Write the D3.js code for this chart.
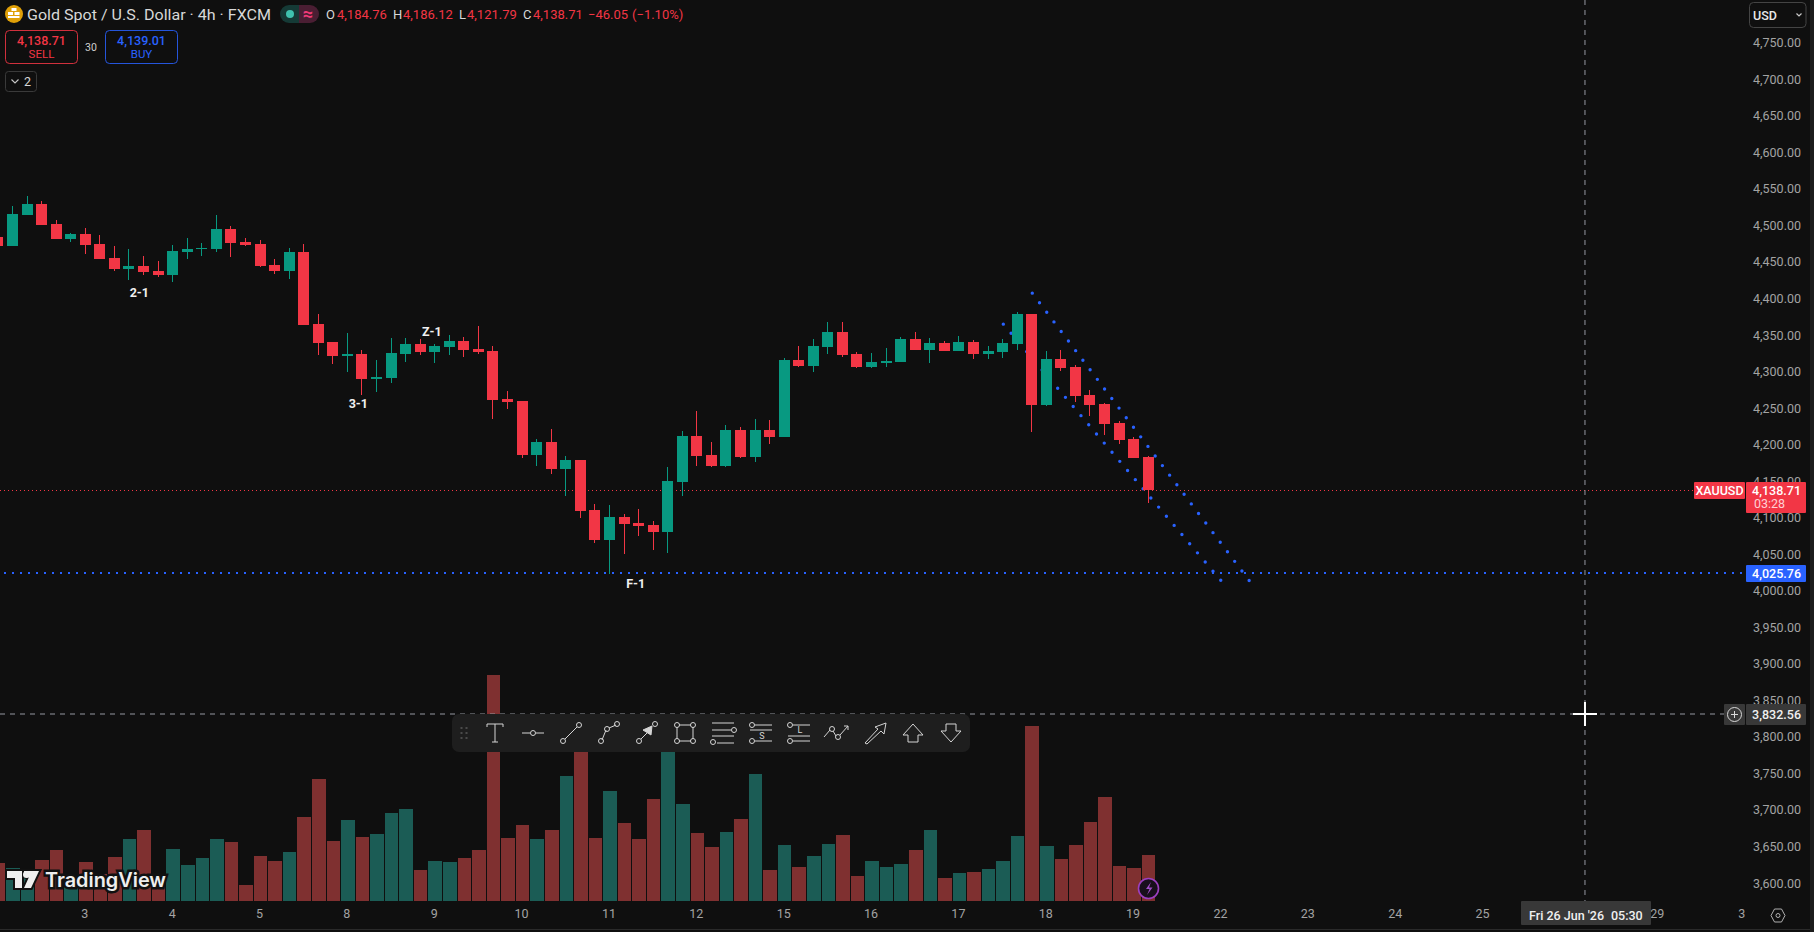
<!DOCTYPE html>
<meta charset="utf-8">
<head>
<style>
html, body { margin: 0; padding: 0; background: #0f0f0f; overflow: hidden; }
text { font-family: Roboto, sans-serif; }
</style>
</head>
<div id="chart"></div>
<script src="https://d3js.org/d3.v7.min.js"></script>
<script>
// candles, index -1 is the one cut off by the left edge
var barIndex = d3.range(-1, 79);
var open = [4485.1,4472.8,4515.2,4530.3,4502.9,4482.4,4489.2,4475.5,4456.4,4441.4,4445.5,4438.6,4433.1,4464.6,4468.7,4468.7,4496.1,4478.3,4475.5,4446.8,4438.6,4464.6,4366.1,4341.5,4322.4,4325.1,4290.9,4292.3,4325.1,4338.8,4327.8,4334.7,4342.9,4332.0,4329.2,4263.5,4260.8,4187.0,4204.7,4167.8,4180.1,4111.7,4070.7,4102.2,4093.9,4091.2,4081.6,4150.0,4212.9,4187.0,4171.9,4221.2,4184.2,4221.2,4211.6,4316.9,4308.7,4334.7,4355.2,4325.1,4307.3,4312.8,4314.2,4345.6,4330.6,4340.1,4329.2,4341.5,4325.1,4327.8,4338.8,4379.8,4255.3,4318.3,4307.3,4269.0,4256.7,4230.7,4208.8,4184.76];
var high = [4486.5,4527.5,4541.2,4534.4,4508.4,4490.6,4497.4,4487.9,4472.8,4468.7,4459.1,4452.3,4474.2,4483.8,4476.9,4515.2,4500.2,4483.8,4481.0,4455.0,4470.1,4475.5,4379.8,4341.5,4353.8,4330.6,4316.9,4347.0,4347.0,4345.6,4338.8,4351.1,4348.3,4363.4,4336.0,4274.5,4260.8,4208.8,4222.5,4185.6,4180.1,4119.9,4118.6,4106.3,4113.1,4096.7,4170.5,4219.8,4247.1,4204.7,4228.0,4225.2,4236.2,4234.8,4319.6,4336.0,4345.6,4368.9,4368.9,4327.8,4326.5,4333.3,4348.3,4355.2,4347.0,4342.9,4349.7,4344.2,4336.0,4345.6,4382.5,4379.8,4329.2,4330.6,4310.0,4275.9,4258.1,4233.5,4211.6,4186.12];
var low = [4472.8,4472.8,4515.2,4501.5,4482.4,4478.3,4461.9,4455.0,4438.6,4426.3,4433.1,4430.4,4423.6,4455.0,4459.1,4464.6,4457.8,4472.8,4444.1,4434.5,4427.7,4364.8,4323.7,4311.4,4300.5,4269.0,4273.1,4285.4,4314.2,4323.7,4312.8,4323.7,4321.0,4325.1,4236.2,4249.9,4182.9,4171.9,4161.0,4130.9,4100.8,4066.6,4024.2,4051.6,4076.2,4057.0,4052.9,4130.9,4171.9,4170.5,4170.5,4182.9,4177.4,4202.0,4211.6,4307.3,4300.5,4325.1,4321.0,4305.9,4305.9,4307.3,4314.2,4330.6,4312.8,4329.2,4329.2,4318.3,4318.3,4319.6,4330.6,4218.4,4254.0,4301.8,4259.4,4240.3,4214.3,4202.0,4182.8,4121.79];
var close = [4472.8,4516.6,4530.3,4501.5,4482.4,4489.2,4474.2,4455.0,4441.4,4445.5,4437.3,4433.1,4466.0,4468.7,4470.1,4496.1,4476.9,4474.2,4445.5,4438.6,4464.6,4364.8,4340.1,4322.4,4325.1,4290.9,4293.6,4326.5,4338.8,4327.8,4336.0,4342.9,4330.6,4327.8,4262.2,4259.4,4187.0,4204.7,4167.8,4180.1,4110.4,4070.7,4102.2,4092.6,4089.8,4081.6,4151.4,4212.9,4185.6,4171.9,4221.2,4184.2,4221.2,4211.6,4316.9,4308.7,4336.0,4355.2,4323.7,4307.3,4314.2,4315.5,4345.6,4330.6,4340.1,4329.2,4341.5,4325.1,4329.2,4340.1,4379.8,4255.3,4318.3,4305.9,4267.6,4255.3,4229.3,4207.5,4182.8,4138.71];
var volume = [113,98,94,122,152,72,116,82,131,185,212,72,155,107,128,185,176,47,134,119,146,251,365,179,242,191,200,263,275,92,119,116,128,152,677,188,227,185,212,374,522,188,329,233,185,305,502,290,203,161,206,245,380,92,167,101,134,170,197,74,119,101,110,152,212,68,83,86,95,119,194,524,164,125,167,236,311,104,98,137];

var dayTickIdx = [5,11,17,23,29,35,41,47,53,59,65,71,77,83,89,95,101,113,118.8];
var dayTickLabels = ["3","4","5","8","9","10","11","12","15","16","17","18","19","22","23","24","25","29","3"];
var priceTicks = d3.range(3600, 4751, 50);

// drawn levels and trend lines, as bar index and price
var lastPrice = 4138.71;
var levelPrice = 4025.76;
var crossIdx = 108;
var crossPrice = 3832.56;
var trendUpper = [[70.04,4408.5],[85.0,4013.5]];
var trendLower = [[68.05,4366.1],[83.05,4014.0]];
var noteText = ["2-1","Z-1","3-1","F-1"];
var noteIdx = [8.71,28.8,23.75,42.8];
var notePrice = [4409.9,4356.2,4257.6,4011.5];

var width = 1814, height = 932;
var baseY = 901;

var red = "#f23645", green = "#089981", blue = "#2962ff";
var volRed = "#7f3030", volGreen = "#1b5c55";
var tickCol = "#a3a3a3";

var svg = d3.select("#chart").append("svg")
  .attr("width", width).attr("height", height)
  .style("display", "block");

svg.append("rect").attr("width", width).attr("height", height).attr("fill", "#0f0f0f");

var x = d3.scaleLinear().domain([0, 78]).range([12.5, 12.5 + 78 * 14.56]);
var y = d3.scaleLinear().domain([lastPrice, crossPrice]).range([490.3, 714]);
var yVol = d3.scaleLinear().domain([0, 678]).range([baseY, baseY - 226]);

var bars = barIndex.map(function(d, i) {
  return {i: d, o: open[i], h: high[i], l: low[i], c: close[i], v: volume[i], up: close[i] >= open[i]};
});

// volume
svg.append("g").selectAll("rect").data(bars).enter().append("rect")
  .attr("x", function(d) { return Math.round(x(d.i - 0.5)) + 1; })
  .attr("width", function(d) { return Math.round(x(d.i + 0.5)) - Math.round(x(d.i - 0.5)) - 1; })
  .attr("y", function(d) { return Math.round(yVol(d.v)); })
  .attr("height", function(d) { return baseY - Math.round(yVol(d.v)); })
  .attr("fill", function(d) { return d.up ? volGreen : volRed; });

// level lines
svg.append("line").attr("x1", 0).attr("x2", 1694)
  .attr("y1", Math.round(y(lastPrice)) + 0.5).attr("y2", Math.round(y(lastPrice)) + 0.5)
  .attr("stroke", red).attr("stroke-dasharray", "1 3");
svg.append("line").attr("x1", 4).attr("x2", 1746)
  .attr("y1", Math.round(y(levelPrice))).attr("y2", Math.round(y(levelPrice)))
  .attr("stroke", blue).attr("stroke-width", 2).attr("stroke-dasharray", "2 6");

// dotted trend lines
var trendPath = d3.line().x(function(d) { return x(d[0]); }).y(function(d) { return y(d[1]); });
[trendUpper, trendLower].forEach(function(t) {
  svg.append("path").attr("d", trendPath(t))
    .attr("fill", "none").attr("stroke", blue).attr("stroke-width", 3.4)
    .attr("stroke-linecap", "round").attr("stroke-dasharray", "0 12");
});

// candles
var cg = svg.append("g");
cg.selectAll(".wick").data(bars).enter().append("rect").attr("class", "wick")
  .attr("x", function(d) { return Math.floor(x(d.i)); })
  .attr("width", 1)
  .attr("y", function(d) { return Math.round(y(d.h)); })
  .attr("height", function(d) { return Math.round(y(d.l)) - Math.round(y(d.h)); })
  .attr("fill", function(d) { return d.up ? green : red; });
cg.selectAll(".body").data(bars).enter().append("rect").attr("class", "body")
  .attr("x", function(d) { return Math.floor(x(d.i)) - 5; })
  .attr("width", 11)
  .attr("y", function(d) { return Math.round(y(Math.max(d.o, d.c))); })
  .attr("height", function(d) { return Math.max(1, Math.round(y(Math.min(d.o, d.c))) - Math.round(y(Math.max(d.o, d.c)))); })
  .attr("fill", function(d) { return d.up ? green : red; });

// notes on the chart
svg.append("g").selectAll("text").data(noteText).enter().append("text")
  .attr("x", function(d, i) { return x(noteIdx[i]); })
  .attr("y", function(d, i) { return y(notePrice[i]); })
  .attr("text-anchor", "middle").attr("dominant-baseline", "central")
  .attr("font-size", "12.5px").attr("font-weight", 700).attr("fill", "#f0f0f0")
  .text(function(d) { return d; });

// crosshair
var cross = svg.append("g").attr("stroke", "#9598a1").attr("stroke-dasharray", "5 5");
cross.append("line").attr("x1", x(crossIdx)).attr("x2", x(crossIdx)).attr("y1", 0).attr("y2", 901);
cross.append("line").attr("x1", 0).attr("x2", 1724).attr("y1", y(crossPrice)).attr("y2", y(crossPrice));
svg.append("rect").attr("x", x(crossIdx) - 12).attr("y", y(crossPrice) - 1).attr("width", 24).attr("height", 2).attr("fill", "#fff");
svg.append("rect").attr("x", x(crossIdx) - 1).attr("y", y(crossPrice) - 12).attr("width", 2).attr("height", 24).attr("fill", "#fff");

// price axis
var yAxis = svg.append("g").attr("transform", "translate(1801,0)")
  .call(d3.axisLeft(y).tickValues(priceTicks).tickSize(0).tickPadding(0).tickFormat(d3.format(",.2f")));
yAxis.select(".domain").remove();
yAxis.selectAll("text").attr("font-family", "Roboto").attr("font-size", "12.5px").attr("fill", tickCol).attr("dy", "0.25em");

// time axis
var xAxis = svg.append("g").attr("transform", "translate(-1,908)")
  .call(d3.axisBottom(x).tickValues(dayTickIdx).tickSize(0).tickPadding(0)
    .tickFormat(function(d) { return dayTickLabels[dayTickIdx.indexOf(d)]; }));
xAxis.select(".domain").remove();
xAxis.selectAll("text").attr("font-family", "Roboto").attr("font-size", "12.5px").attr("fill", tickCol).attr("y", 0).attr("dy", "0.8em");

// price tags
function tag(x0, y0, w, h, fill) {
  svg.append("rect").attr("x", x0).attr("y", y0).attr("width", w).attr("height", h).attr("rx", 1).attr("fill", fill);
}
function label(s, px, py, size, col, anchor, weight) {
  return svg.append("text").attr("x", px).attr("y", py).attr("font-size", size + "px").attr("fill", col)
    .attr("text-anchor", anchor || "start").attr("dominant-baseline", "central")
    .attr("font-weight", weight || 400).text(s);
}
tag(1694, 482, 51, 17, red);
label("XAUUSD", 1719.5, 490.5, 12.5, "#fff", "middle", 500);
tag(1746, 482, 60, 31, red);
label("4,138.71", 1801, 490, 12.5, "#fff", "end", 500);
label("03:28", 1754, 503.5, 12.5, "#ffd0d4", "start", 400);
tag(1746, 565, 60, 17, blue);
label("4,025.76", 1801, 573.5, 12.5, "#fff", "end", 500);

tag(1724, 704, 21, 21, "#383838");
tag(1746, 704, 60, 21, "#383838");
label("3,832.56", 1801, 714, 12.5, "#f0f0f0", "end", 500);
svg.append("circle").attr("cx", 1734.5).attr("cy", 714.5).attr("r", 7).attr("fill", "none").attr("stroke", "#d8d8d8");
svg.append("path").attr("d", "M1731 714.5H1738M1734.5 711V718").attr("stroke", "#d8d8d8");

tag(1521, 901, 130, 24, "#383838");
label("Fri 26 Jun '26", 1529, 915, 12.5, "#f0f0f0", "start", 500);
label("05:30", 1611, 915, 12.5, "#f0f0f0", "start", 500);

// settings hexagon
svg.append("path").attr("d", "M1771 915.5l3.5-6.5h7l3.5 6.5l-3.5 6.5h-7z").attr("fill", "none").attr("stroke", "#b0b0b0");
svg.append("circle").attr("cx", 1778).attr("cy", 915.5).attr("r", 2).attr("fill", "none").attr("stroke", "#b0b0b0");

// USD box
svg.append("rect").attr("x", 1749.5).attr("y", 2.5).attr("width", 56.5).attr("height", 25).attr("rx", 4)
  .attr("fill", "none").attr("stroke", "#444");
label("USD", 1753, 15, 12.5, "#e8e8e8", "start", 500);
svg.append("path").attr("d", "M1796.5 13.5l2.5 2.5l2.5-2.5").attr("fill", "none").attr("stroke", "#c8c8c8").attr("stroke-width", 1.2);

// header
svg.append("circle").attr("cx", 14).attr("cy", 14).attr("r", 9).attr("fill", "#e0a008");
svg.append("path").attr("d", "M11.5 8h5v3h-5zM8 12h5v3h-5zM14.5 12h5v3h-5z M8 16h11.5v2h-11.5z").attr("fill", "#fff");
label("Gold Spot / U.S. Dollar · 4h · FXCM", 27, 14.5, 15.5, "#d8d8d8")
  .attr("textLength", 244).attr("lengthAdjust", "spacingAndGlyphs");
svg.append("path").attr("d", "M299 5h-10a9 9 0 0 0 0 18h10z").attr("fill", "#153a36");
svg.append("path").attr("d", "M299 5h11a9 9 0 0 1 0 18h-11z").attr("fill", "#4a1e33");
svg.append("circle").attr("cx", 290).attr("cy", 14).attr("r", 4).attr("fill", "#3fc1ae");
label("≈", 308, 13.5, 18, "#f23a78", "middle", 700);

label("O", 326, 14.5, 13, "#d8d8d8");
label("4,184.76", 337, 14.5, 13, red);
label("H", 393, 14.5, 13, "#d8d8d8");
label("4,186.12", 403, 14.5, 13, red);
label("L", 459, 14.5, 13, "#d8d8d8");
label("4,121.79", 467, 14.5, 13, red);
label("C", 523, 14.5, 13, "#d8d8d8");
label("4,138.71", 533, 14.5, 13, red);
label("−46.05", 588, 14.5, 13, red);
label("(−1.10%)", 632, 14.5, 13, red);

function tradeBox(x0, col, price, side) {
  svg.append("rect").attr("x", x0 + 0.5).attr("y", 30.5).attr("width", 72).attr("height", 33).attr("rx", 4)
    .attr("fill", "none").attr("stroke", col).attr("stroke-opacity", 0.85);
  label(price, x0 + 36.5, 40.5, 12.5, col, "middle", 500);
  label(side, x0 + 36.5, 54, 11.5, col, "middle");
}
tradeBox(5, red, "4,138.71", "SELL");
tradeBox(105, blue, "4,139.01", "BUY");
label("30", 91, 47, 10.5, "#d0d0d0", "middle");

svg.append("rect").attr("x", 5.5).attr("y", 71.5).attr("width", 31).attr("height", 20).attr("rx", 3)
  .attr("fill", "none").attr("stroke", "#3a3a3a");
svg.append("path").attr("d", "M11.5 79.5l3.5 3.5l3.5-3.5").attr("fill", "none").attr("stroke", "#c8c8c8").attr("stroke-width", 1.1);
label("2", 24, 81.5, 12.5, "#d8d8d8");

// TradingView logo
var logo = svg.append("g");
logo.append("path").attr("d", "M7 871h15v17h-7v-10h-8z M24 871h15l-8 17h-7l5-11a3.5 3.5 0 0 1 -5 -3z")
  .attr("fill", "#eee").attr("stroke", "#111").attr("stroke-width", 4).attr("paint-order", "stroke");
logo.append("circle").attr("cx", 26.5).attr("cy", 874.5).attr("r", 3.5).attr("fill", "#eee");
logo.append("text").attr("x", 45).attr("y", 880).attr("dominant-baseline", "central")
  .attr("font-family", "Inter").attr("font-size", "20px").attr("font-weight", 600)
  .attr("textLength", 121).attr("lengthAdjust", "spacingAndGlyphs")
  .attr("fill", "#eee").attr("stroke", "#111").attr("stroke-width", 5).attr("paint-order", "stroke")
  .style("font-family", "Inter")
  .text("TradingView");

// lightning badge
svg.append("circle").attr("cx", 1148.5).attr("cy", 888.5).attr("r", 10).attr("fill", "#180f1c").attr("stroke", "#9c3fc0").attr("stroke-width", 1.6);
svg.append("path").attr("d", "M1151 882l-5 7h3.5l-2.5 6l5.5-7.5h-3.5z").attr("fill", "#a04fc8");

// drawing toolbar
svg.append("rect").attr("x", 452).attr("y", 714).attr("width", 518).attr("height", 38).attr("rx", 7).attr("fill", "#1e1e1e");
var tools = [
  {x: 495, d: "M-8 -9H8M-8 -9V-6M8 -9V-6M0 -9V9M-3 9H3"},
  {x: 533, d: "M-11 0H-3M3 0H11", c: [[0,0]]},
  {x: 571, d: "M-6 6L6 -6", c: [[-8,8],[8,-8]]},
  {x: 609, d: "M-7 7L-3 -3M0 -5L7 -8", c: [[-8,8],[-2,-4],[8,-9]]},
  {x: 647, d: "M-6 6L3 -3", c: [[-8,8],[8,-9]], fill: "M5 -7L4 2L-4 -3z"},
  {x: 685, d: "M-6 -8H6M-6 8H6M-8 -6V6M8 -6V6", c: [[-8,-8],[8,-8],[-8,8],[8,8]]},
  {x: 723, d: "M-11 -10H11M-11 -3H8M-11 3H11M-6 10H11", c: [[11,-3],[-10,9]]},
  {x: 761, d: "M-6 -8H11M-11 -3H11M-6 8H11", c: [[-9,-8],[-9,8]], t: "S"},
  {x: 799, d: "M-6 -8H11M-11 3H11M-6 8H11", c: [[-9,-8],[-9,8]], t: "L"},
  {x: 837, d: "M-13 4L-7 -3M-4 -2L-1 3M3 2L11 -7M7 -7H11V-3", c: [[-5,-4],[1,4]]},
  {x: 875, d: "M-10 10L3 -4L0 -6L11 -10L9 1L6 -2L-8 11z"},
  {x: 913, d: "M0 -9L10 2H5V9H-5V2H-10z"},
  {x: 951, d: "M0 9L10 -2H5V-9H-5V-2H-10z"}
];
tools.forEach(function(t) {
  var g = svg.append("g").attr("transform", "translate(" + t.x + ",733)").attr("fill", "none").attr("stroke", "#d4d4d4").attr("stroke-width", 1);
  if (t.d) g.append("path").attr("d", t.d);
  if (t.fill) g.append("path").attr("d", t.fill).attr("fill", "#d4d4d4");
  (t.c || []).forEach(function(p) {
    g.append("circle").attr("cx", p[0]).attr("cy", p[1]).attr("r", 2.5);
  });
  if (t.t) g.append("text").attr("x", 1).attr("y", t.t === "S" ? 3 : -3).attr("text-anchor", "middle").attr("dominant-baseline", "central")
    .attr("font-size", "9px").attr("fill", "#d4d4d4").attr("stroke", "none").text(t.t);
});
[-5, 0, 5].forEach(function(dy) {
  [-2.5, 2.5].forEach(function(dx) {
    svg.append("rect").attr("x", 464 + dx - 1).attr("y", 733 + dy - 1).attr("width", 2).attr("height", 2).attr("fill", "#4a4a4a");
  });
});

// frame
svg.append("rect").attr("x", 0).attr("y", 929).attr("width", width).attr("height", 1).attr("fill", "#2a2a2a");
svg.append("rect").attr("x", 1810).attr("y", 0).attr("width", 4).attr("height", height).attr("fill", "#1c1c1c");
</script>
